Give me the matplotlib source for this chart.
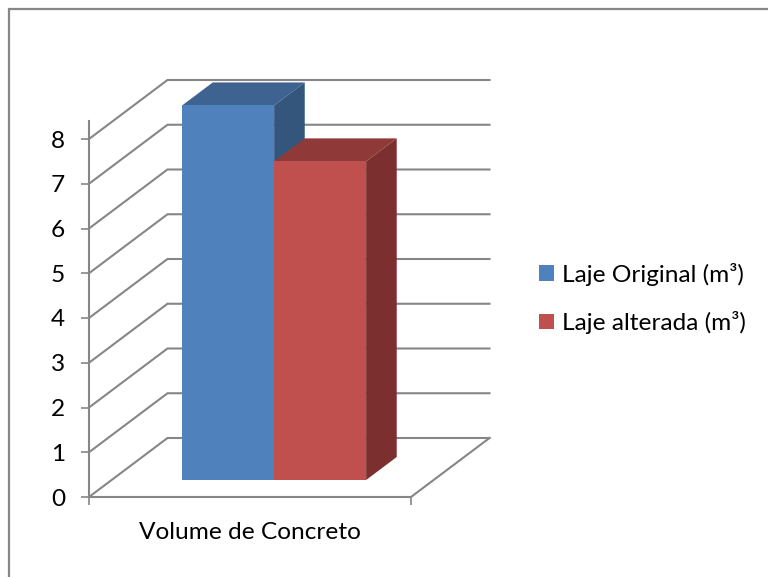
import matplotlib
matplotlib.use("Agg")
import matplotlib.pyplot as plt
from matplotlib.lines import Line2D
from matplotlib.patches import Patch, Polygon

category = "Volume de Concreto"
series_names = ["Laje Original (m³)", "Laje alterada (m³)"]
series_values = [8.37, 7.12]
y_ticks = [0, 1, 2, 3, 4, 5, 6, 7, 8]

front_colors = ["#4F81BD", "#C0504D"]
top_colors = ["#3E6390", "#8F3A38"]
side_colors = ["#34557C", "#7B2F2E"]
grid_color = "#868686"

W, H = 768, 577
font_name = ["Lato", "DejaVu Sans"]
font_size = 17.6

# oblique depth of the box, in data units per full depth
depth_x = 78.5 / 322
depth_y = 59 / 44.75
bar_depth_start = 0.288
bar_depth = 0.39
bar_left = 0.219
bar_width = 0.2857


def project(x, y, d):
    return (x + d * depth_x, y + d * depth_y)


def draw_bar(ax, left, value, front, top, side):
    z0 = bar_depth_start
    z1 = bar_depth_start + bar_depth
    right = left + bar_width
    ax.add_patch(Polygon([project(left, value, z0), project(right, value, z0),
                          project(right, value, z1), project(left, value, z1)],
                         facecolor=top, edgecolor="none", clip_on=False, zorder=3))
    ax.add_patch(Polygon([project(right, 0, z0), project(right, value, z0),
                          project(right, value, z1), project(right, 0, z1)],
                         facecolor=side, edgecolor="none", clip_on=False, zorder=3))
    ax.add_patch(Polygon([project(left, 0, z0), project(right, 0, z0),
                          project(right, value, z0), project(left, value, z0)],
                         facecolor=front, edgecolor="none", clip_on=False, zorder=3))


fig = plt.figure(figsize=(W / 100, H / 100), dpi=100, facecolor="white")

# outer border, only the top and left sides are drawn
fig.add_artist(Line2D([9 / W, 9 / W, 1], [0, 1 - 9 / H, 1 - 9 / H],
                      transform=fig.transFigure, color=grid_color, linewidth=1.6,
                      solid_joinstyle="miter"))

ax = fig.add_axes([89 / W, 1 - 497 / H, 322 / W, 376 / H])
ax.set_xlim(0, 1)
ax.set_ylim(0, 376 / 44.75)
ax.patch.set_visible(False)

for s in ["top", "right"]:
    ax.spines[s].set_visible(False)
for s in ["left", "bottom"]:
    ax.spines[s].set_color(grid_color)
    ax.spines[s].set_linewidth(1.5)

# side wall and back wall lines
for v in y_ticks:
    x0, y0 = project(0, v, 0)
    x1, y1 = project(0, v, 1)
    x2, y2 = project(1, v, 1)
    ax.plot([x0, x1, x2], [y0, y1, y2], color=grid_color, linewidth=1.5,
            clip_on=False, zorder=1, solid_joinstyle="miter")
ax.plot(*zip(project(1, 0, 0), project(1, 0, 1)), color=grid_color,
        linewidth=1.5, clip_on=False, zorder=1)

for i in range(len(series_values)):
    draw_bar(ax, bar_left + i * bar_width, series_values[i],
             front_colors[i], top_colors[i], side_colors[i])

ax.set_yticks(y_ticks)
ax.set_yticklabels([str(v) for v in y_ticks], fontsize=font_size, family=font_name)
ax.set_xticks([0, 1], labels=["", ""])
ax.set_xticks([0.5], labels=[category], minor=True, fontsize=font_size, family=font_name)
ax.tick_params(axis="both", which="major", length=5.8, width=1.2, color=grid_color)
ax.tick_params(axis="y", pad=11.5, labelcolor="black")
ax.tick_params(axis="x", which="minor", length=0, pad=18, labelcolor="black")

handles = [Patch(facecolor=c, edgecolor="none") for c in front_colors]
fig.legend(handles, series_names, loc="center left",
           bbox_to_anchor=(517 / W, 1 - 298.5 / H), frameon=False,
           prop={"family": font_name, "size": font_size},
           handlelength=0.62, handleheight=0.62, handletextpad=0.33, labelspacing=1.03)

fig.savefig("out.png", dpi=100, facecolor="white")
